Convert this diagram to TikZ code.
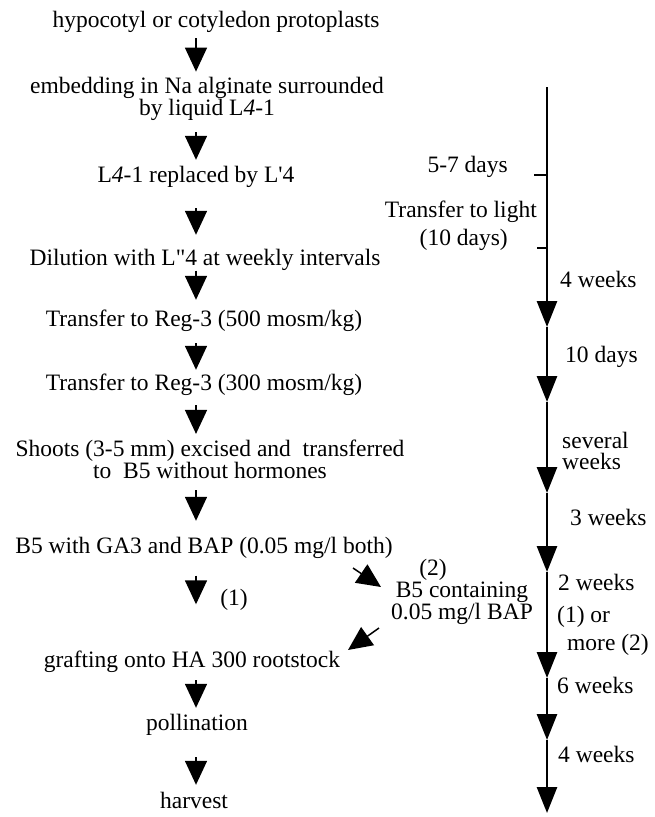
\documentclass[tikz,border=0pt]{standalone}
\usepackage{fontspec}
\setmainfont{Liberation Serif}[Ligatures=TeXOff]
\usetikzlibrary{arrows.meta}
\begin{document}
\begin{tikzpicture}[x=1pt,y=-1pt,
  txt/.style={font=\fontsize{23.5}{22}\selectfont, inner sep=0pt, text height=16pt, text depth=5pt},
  mtxt/.style={font=\fontsize{23.5}{22}\selectfont, inner sep=0pt, align=center},
  flow/.style={line width=1.5pt, -{Triangle[width=22pt,length=24pt]}},
  tline/.style={line width=2.8pt, -{Triangle[width=20pt,length=26pt]}},
  tickmark/.style={line width=1.5pt}]
\useasboundingbox (0,0) rectangle (654,817);
\coordinate (col) at (196,0);
% left column
\node[txt] (n1) at (216,22) {hypocotyl or cotyledon protoplasts};
\node[mtxt] (n2) at (207,99) {embedding in Na alginate surrounded\\by liquid L\textit{4}-1};
\node[txt] (n3) at (196,177) {L\textit{4}-1 replaced by L'4};
\node[txt] (n4) at (205,260) {Dilution with L"4 at weekly intervals};
\node[txt] (n5) at (204,321) {Transfer to Reg-3 (500 mosm/kg)};
\node[txt] (n6) at (204,385) {Transfer to Reg-3 (300 mosm/kg)};
\node[mtxt] (n7) at (210,459) {Shoots (3-5 mm) excised and\ \ transferred\\to\ \ B5 without hormones};
\node[txt] (n8) at (204,548) {B5 with GA3 and BAP (0.05 mg/l both)};
\node[txt] (n9) at (192,662) {grafting onto HA 300 rootstock};
\node[txt] (n10) at (197,725) {pollination};
\node[txt] (n11) at (194,803) {harvest};
\node[txt] (one) at (234,600) {(1)};
% side branch
\node[txt] (two) at (433,570) {(2)};
\node[mtxt] (b5c) at (462,603) {B5 containing\\0.05 mg/l BAP};
% left arrows
\draw[flow, shorten <=5.5pt, shorten >=5.5pt] (n1.south -| col) -- (n2.north -| col);
\draw[flow, shorten <=11.5pt, shorten >=6.5pt] (n2.south -| col) -- (n3.north -| col);
\draw[flow, shorten <=20.5pt, shorten >=14.5pt] (n3.south -| col) -- (n4.north -| col);
\draw[flow, shorten <=0pt, shorten >=10.5pt] (n4.south -| col) -- (n5.north -| col);
\draw[flow, shorten <=11.5pt, shorten >=4.5pt] (n5.south -| col) -- (n6.north -| col);
\draw[flow, shorten <=9.5pt, shorten >=5.5pt] (n6.south -| col) -- (n7.north -| col);
\draw[flow, shorten <=11.5pt, shorten >=16.5pt] (n7.south -| col) -- (n8.north -| col);
\draw[flow, shorten <=17pt, shorten >=47pt] (n8.south -| col) -- (n9.north -| col);
\draw[flow, shorten <=7.5pt, shorten >=6.5pt] (n9.south -| col) -- (n10.north -| col);
\draw[flow, shorten <=21.5pt, shorten >=7.5pt] (n10.south -| col) -- (n11.north -| col);
% diagonal arrows
\coordinate (d1s) at (353,568);
\coordinate (d1e) at (381,587);
\coordinate (d2s) at (379,628);
\coordinate (d2e) at (348,650);
\draw[flow] (d1s) -- (d1e);
\draw[flow] (d2s) -- (d2e);
% timeline
\coordinate (t0) at (547,87);
\coordinate (t1) at (547,327);
\coordinate (t2) at (547,402);
\coordinate (t3) at (547,493);
\coordinate (t4) at (547,572);
\coordinate (t5) at (547,678);
\coordinate (t6) at (547,740);
\coordinate (t7) at (547,813);
\draw[tline] (t0) -- (t1);
\draw[tline] (t1) -- (t2);
\draw[tline] (t2) -- (t3);
\draw[tline] (t3) -- (t4);
\draw[tline] (t4) -- (t5);
\draw[tline] (t5) -- (t6);
\draw[tline] (t6) -- (t7);
\coordinate (k1) at (547,175);
\coordinate (k2) at (547,248);
\draw[tickmark] (k1) -- ++(-13,0);
\draw[tickmark] (k2) -- ++(-10,0);
% timeline labels
\node[txt, anchor=east] (l1) at (508,167) {5-7 days};
\node[txt, anchor=east] (l2) at (537,212) {Transfer to light};
\node[txt, anchor=east] (l3) at (508,240) {(10 days)};
\node[txt, anchor=west] (r1) at (560,282) {4 weeks};
\node[txt, anchor=west] (r2) at (565,357) {10 days};
\node[mtxt, align=left, anchor=west, font=\fontsize{23.5}{20.5}\selectfont] (r3) at (562,451) {several\\weeks};
\node[txt, anchor=west] (r4) at (570,520) {3 weeks};
\node[txt, anchor=west] (r5) at (558,585) {2 weeks};
\node[txt, anchor=west] (r6) at (557,617) {(1) or};
\node[txt, anchor=west] (r7) at (567,645) {more (2)};
\node[txt, anchor=west] (r8) at (557,688) {6 weeks};
\node[txt, anchor=west] (r9) at (558,757) {4 weeks};
\end{tikzpicture}
\end{document}
